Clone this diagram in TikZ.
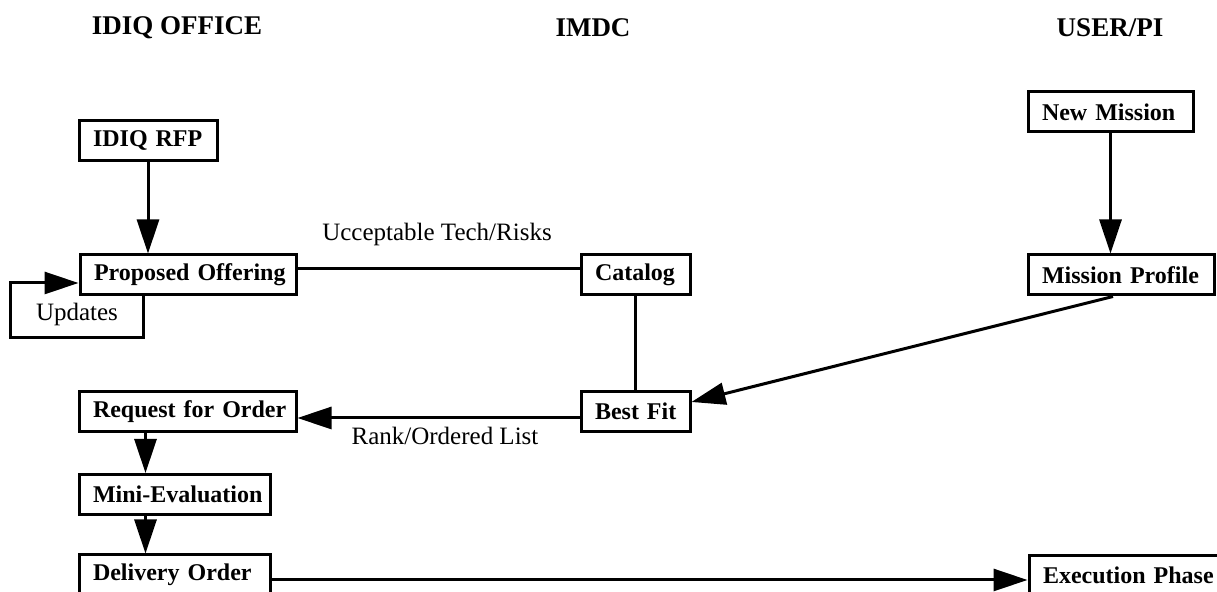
\documentclass[tikz,border=0pt]{standalone}
\usepackage{fontspec}
\setmainfont{Liberation Serif}
\usetikzlibrary{arrows.meta,calc}
\begin{document}
\begin{tikzpicture}[x=0.5pt,y=-0.5pt,
  box/.style={draw,line width=1.5pt,minimum height=20pt,inner xsep=0pt,inner ysep=0pt,align=left,
    execute at begin node={\hspace*{7pt}},font=\fontsize{12}{14}\selectfont\bfseries},
  lbl/.style={font=\fontsize{12.5}{15}\selectfont},
  hdr/.style={font=\fontsize{13.5}{16}\selectfont\bfseries},
  conn/.style={line width=1.5pt},
  arr/.style={conn,-{Triangle[length=17pt,width=11pt]}}]
\useasboundingbox (0,0) rectangle (1217,592);

% headers
\node[hdr] (h1) at (177,28) {IDIQ OFFICE};
\node[hdr] (h2) at (593,28) {IMDC};
\node[hdr] (h3) at (1110,28) {USER/PI};

% boxes
\node[box,text width=69pt] (rfp) at (148,140.5) {IDIQ RFP};
\node[box,text width=108pt] (po) at (188,275) {Proposed Offering};
\node[box,text width=54.5pt] (cat) at (635.5,275) {Catalog};
\node[box,text width=82.5pt] (nm) at (1110.5,112) {New Mission};
\node[box,text width=93pt] (mp) at (1121,275) {Mission Profile};
\node[box,text width=54.5pt] (bf) at (635.5,411.5) {Best Fit};
\node[box,text width=108.5pt] (rfo) at (187.5,411.5) {Request for Order};
\node[box,text width=95.5pt] (me) at (174.5,494.5) {Mini-Evaluation};
\node[box,text width=95.5pt] (do) at (174.5,575) {Delivery Order};
\node[box,text width=100pt] (ep) at (1129,575.5) {Execution Phase};

% labels
\node[lbl] (l1) at (437,234) {Ucceptable Tech/Risks};
\node[lbl] (l2) at (445,436) {Rank/Ordered List};
\node[lbl] (l3) at (77,314) {Updates};

% connectors
\draw[arr] (rfp.south) -- (rfp.south |- po.north);
\draw[arr] (nm.south) -- (nm.south |- mp.north);
\coordinate (poR) at ($(po.east)+(0,-6)$);
\draw[conn] (poR) -- (poR -| cat.west);
\draw[conn] (cat.south) -- (bf.north);
\coordinate (mpout) at ($(mp.south)+(-8,0)$);
\coordinate (bfin) at ($(bf.east)+(0,-9.5)$);
\draw[arr] (mpout) -- (bfin);
\coordinate (bfL) at ($(bf.west)+(0,6.5)$);
\draw[arr] (bfL) -- (bfL -| rfo.east);
\coordinate (rfoB) at ($(rfo.south west)+(68,0)$);
\draw[arr] (rfoB) -- (rfoB |- me.north);
\coordinate (meB) at ($(me.south west)+(68,0)$);
\draw[arr] (meB) -- (meB |- do.north);
\coordinate (doR) at ($(do.east)+(0,5)$);
\draw[arr] (doR) -- (doR -| ep.west);
% updates loop
\coordinate (poB) at ($(po.south west)+(65,0)$);
\coordinate (loopB) at (10,338);
\coordinate (loopC) at (10,283);
\draw[arr] (poB) -- (poB |- loopB) -- (loopB) -- (loopC) -- (loopC -| po.west);
\end{tikzpicture}
\end{document}
